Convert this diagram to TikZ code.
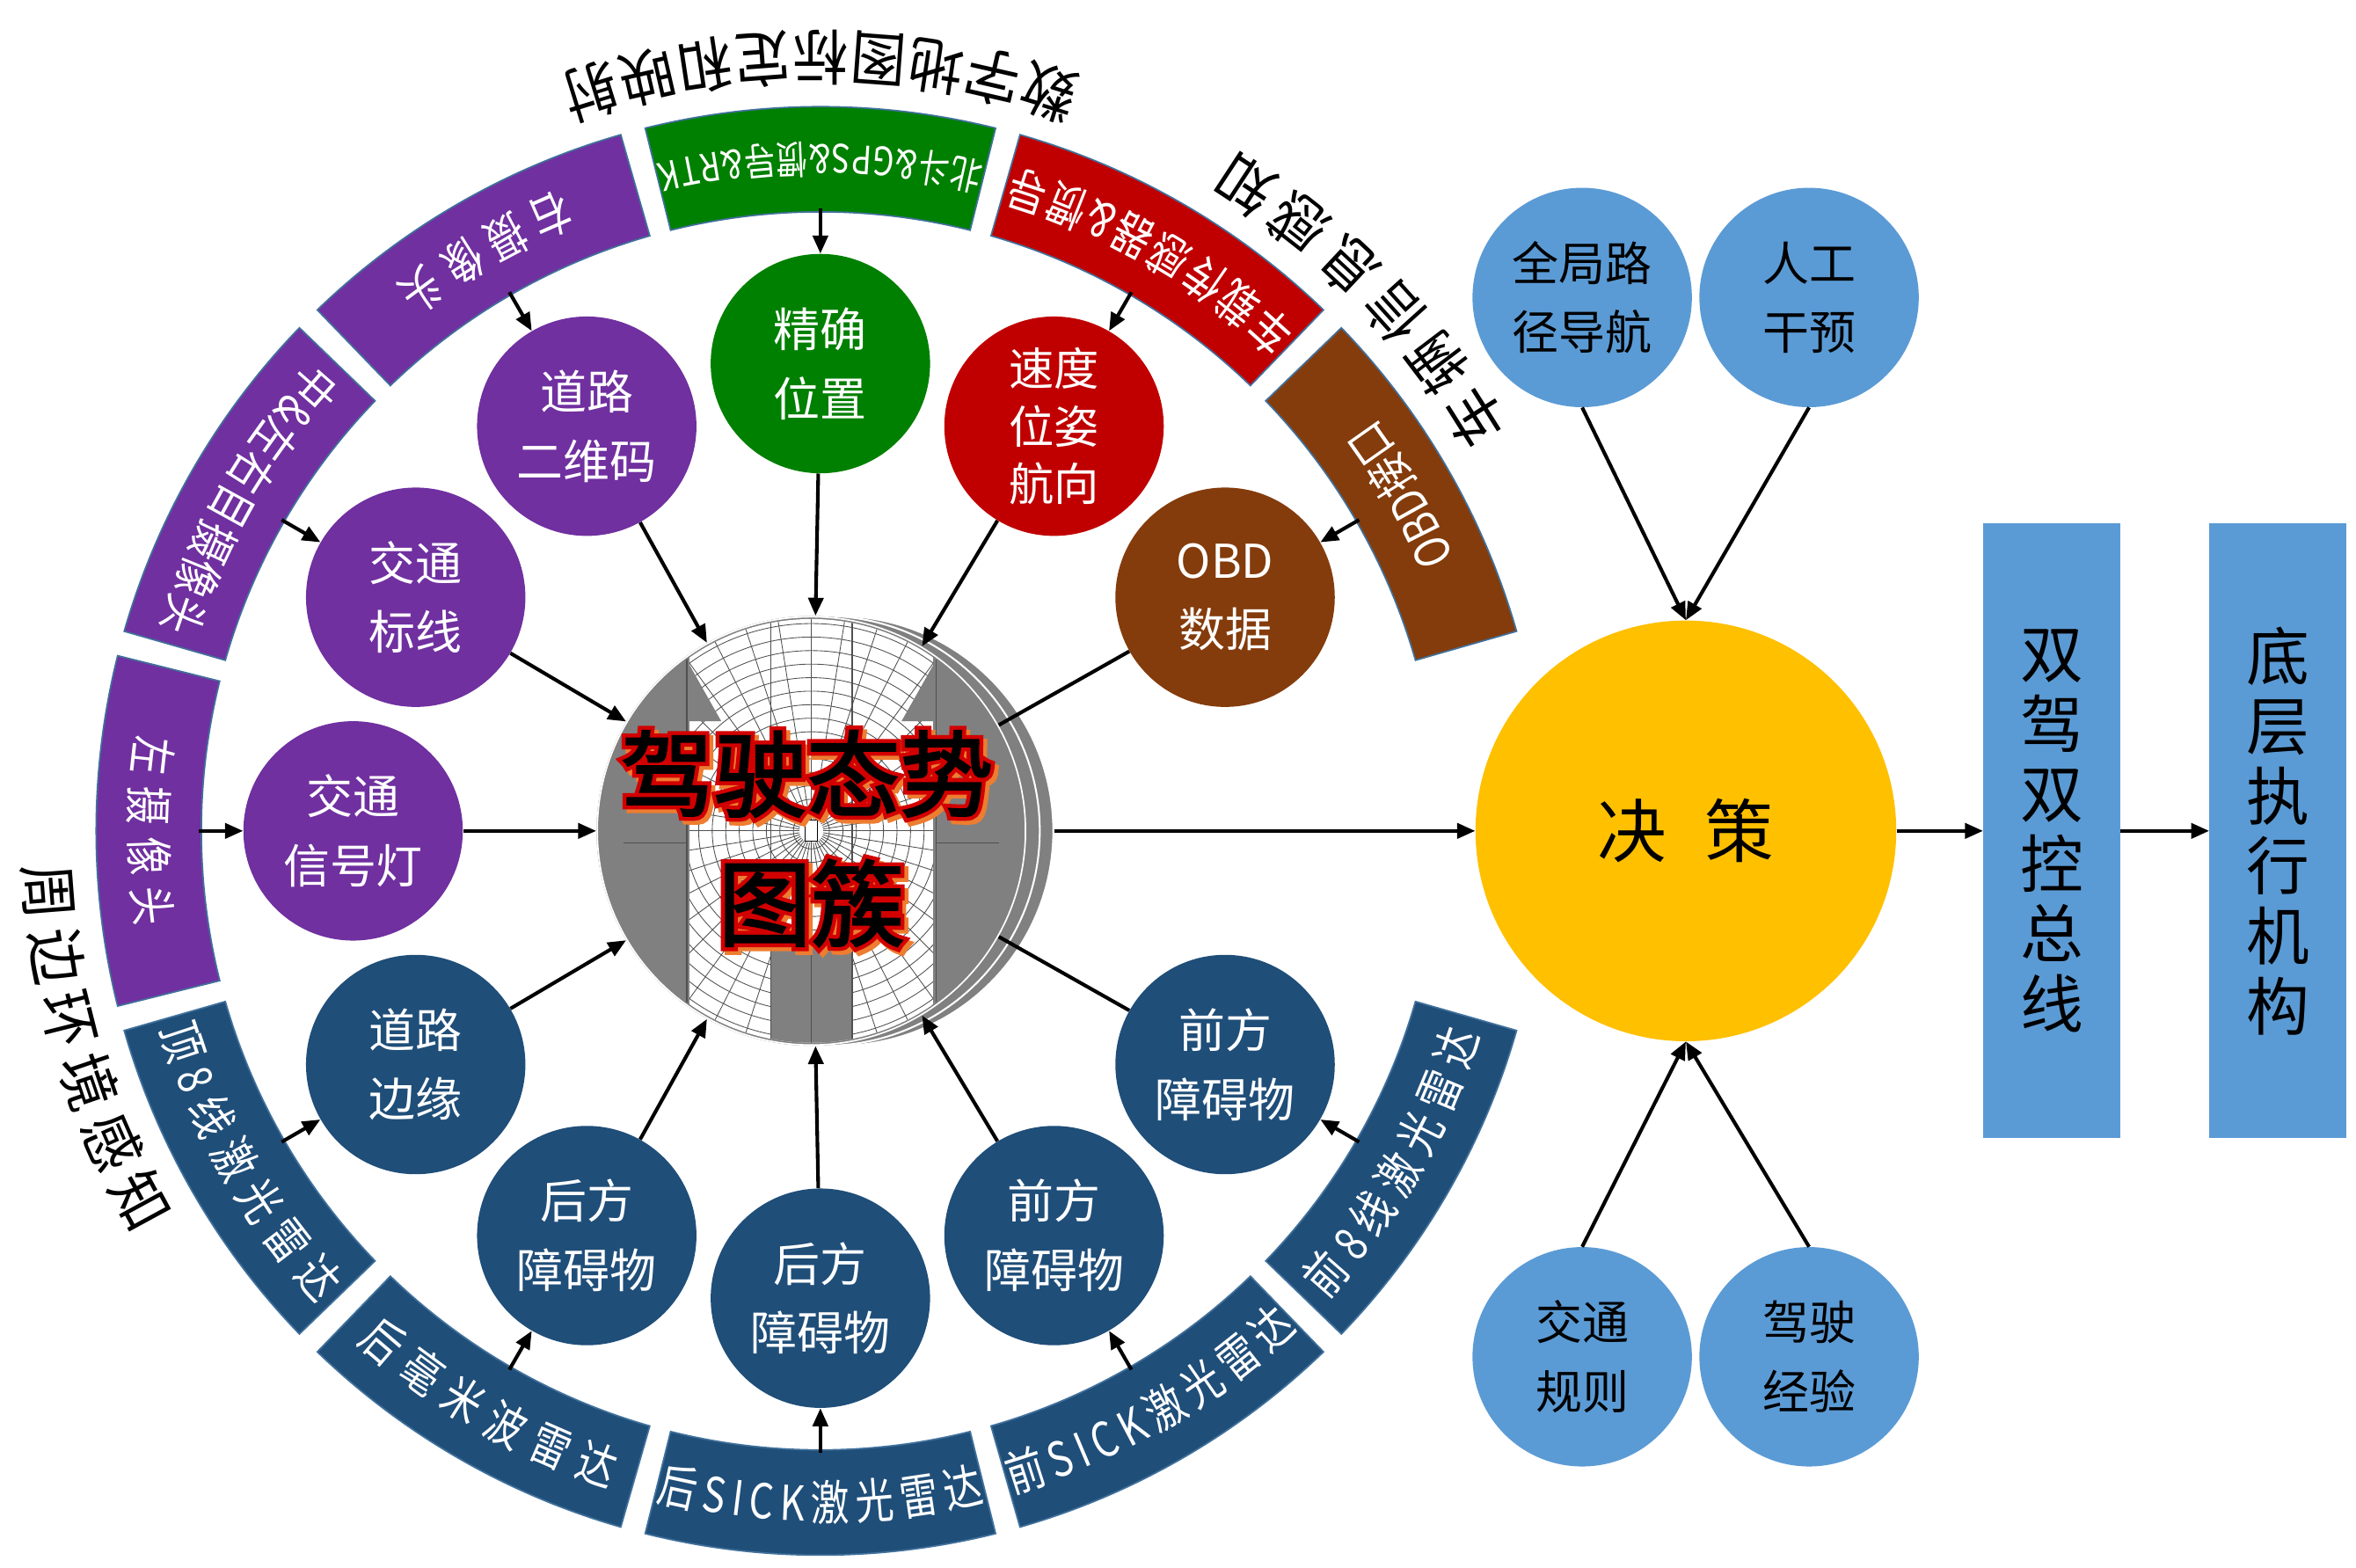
\documentclass[tikz,border=0pt]{standalone}
\usepackage{fontspec}
\setmainfont{Noto Sans CJK SC}
\newfontfamily\bandfam{Noto Sans CJK SC}[FakeStretch=0.8]
\newfontfamily\titlefam{Noto Sans CJK SC}[FakeStretch=0.92]
\newfontfamily\heavyfam{Noto Sans CJK SC}[FakeBold=2.5]
\newfontfamily\rimfam{Noto Sans CJK SC}[FakeBold=11]
\usetikzlibrary{arrows.meta,decorations.text,calc}

\definecolor{cpurple}{RGB}{112,48,160}
\definecolor{cgreen}{RGB}{0,128,0}
\definecolor{cred}{RGB}{192,0,0}
\definecolor{cbrown}{RGB}{132,60,12}
\definecolor{cnavy}{RGB}{31,78,121}
\definecolor{clight}{RGB}{91,155,213}
\definecolor{cgold}{RGB}{255,192,0}
\definecolor{cedge}{RGB}{65,113,156}
\definecolor{cdisc}{RGB}{128,128,128}
\definecolor{cgrid}{RGB}{80,80,80}
\definecolor{cshadow}{RGB}{237,125,49}
\definecolor{cout}{RGB}{210,0,0}

\newcommand\nodefont{\fontsize{31}{46}\selectfont}
\newcommand\threefont{\fontsize{30}{38.5}\selectfont}
\newcommand\jcfont{\fontsize{46}{46}\selectfont}
\newcommand\barfont{\fontsize{42}{46.6}\selectfont}
\newcommand\hubfont{\heavyfam\fontsize{62}{62}\selectfont}
\newcommand\rimfont{\rimfam\fontsize{62}{62}\selectfont}

% ring band: #1 centre angle, #2 fill, #3 half-span of the label, #4 label size, #5 label
\newcommand\ringband[5]{%
  \fill[#2, draw=cedge, line width=1pt]
    ({#1-14}:412) arc[start angle={#1-14}, end angle={#1+14}, radius=412]
    -- ({#1+14}:482) arc[start angle={#1+14}, end angle={#1-14}, radius=482] -- cycle;
  \path[decorate, decoration={text along path, text align={fit to path}, text color=white,
        text={|\bandfam\fontsize{#4}{#4}\selectfont|#5}}]
    ({#1-#3}:{447+0.38*#4}) arc[start angle={#1-#3}, end angle={#1+#3}, radius={447+0.38*#4}];
}
% curved heading outside the ring: #1 centre angle, #2 half-span, #3 text
\newcommand\ringtitle[3]{%
  \path[decorate, decoration={text along path, text align={fit to path},
        text={|\titlefam\fontsize{40}{40}\selectfont|#3}}]
    ({#1-#2}:530) arc[start angle={#1-#2}, end angle={#1+#2}, radius=530];
}
% outlined heading line on the hub: #1 name, #2 position, #3 text
\newcommand\hubline[3]{%
  \node[rimtxt, text=cshadow] at ($#2+(2.6,-2.6)$) {#3};
  \node[rimtxt, text=cout] at #2 {#3};
  \node[hubtxt, text=black] (#1) at #2 {#3};
}

\begin{document}
\begin{tikzpicture}[x=1pt, y=1pt,
  arr/.style={line width=2.4pt, -{Triangle[length=12pt,width=10pt]}},
  link/.style={line width=2.4pt},
  inner/.style={circle, minimum size=146pt, inner sep=0pt, align=center, text=white, font=\nodefont},
  side/.style={circle, minimum size=146pt, inner sep=0pt, align=center, text=black, font=\nodefont, fill=clight},
  disc/.style={circle, minimum size=286pt, inner sep=0pt, fill=cdisc, draw=white, line width=1.2pt},
  bar/.style={rectangle, minimum width=91pt, minimum height=409pt, inner sep=0pt, fill=clight, align=center, font=\barfont},
  hubtxt/.style={inner sep=0pt, font=\hubfont},
  rimtxt/.style={inner sep=0pt, font=\rimfont}]

\useasboundingbox (-546,-490) rectangle (1022,553);
\fill[white] (-546,-490) rectangle (1022,553);

% headings around the ring
\ringtitle{90}{19.2}{数字地图标定和映射}
\ringtitle{44.5}{14.2}{车辆信息感知}
\ringtitle{196.5}{14}{周边环境感知}

% sensor bands
\ringband{30}{cbrown}{6.7}{32}{OBD接口}
\ringband{60}{cred}{13.6}{32}{车载传感器{\&}惯导}
\ringband{90}{cgreen}{13.8}{26}{北斗{\&}GPS{\&}惯导{\&}RTK}
\ringband{120}{cpurple}{8}{32}{右摄像头}
\ringband{150}{cpurple}{12.9}{32}{中{\&}左右目摄像头}
\ringband{180}{cpurple}{8}{32}{左摄像头}
\ringband{210}{cnavy}{13.3}{32}{顶8线激光雷达}
\ringband{240}{cnavy}{12.2}{32}{后毫米波雷达}
\ringband{270}{cnavy}{13.8}{32}{后SICK激光雷达}
\ringband{300}{cnavy}{13.8}{32}{前SICK激光雷达}
\ringband{330}{cnavy}{12.8}{32}{前8线激光雷达}

% information circles
\node[inner, fill=cbrown] (n1) at (30:311) {OBD\\数据};
\node[inner, fill=cred, font=\threefont] (n2) at (60:311) {速度\\位姿\\航向};
\node[inner, fill=cgreen] (n3) at (90:311) {精确\\位置};
\node[inner, fill=cpurple] (n4) at (120:311) {道路\\二维码};
\node[inner, fill=cpurple] (n5) at (150:311) {交通\\标线};
\node[inner, fill=cpurple] (n6) at (180:311) {交通\\信号灯};
\node[inner, fill=cnavy] (n7) at (210:311) {道路\\边缘};
\node[inner, fill=cnavy] (n8) at (240:311) {后方\\障碍物};
\node[inner, fill=cnavy] (n9) at (270:311) {后方\\障碍物};
\node[inner, fill=cnavy] (n10) at (300:311) {前方\\障碍物};
\node[inner, fill=cnavy] (n11) at (330:311) {前方\\障碍物};

\foreach \i in {1,...,11}
  \coordinate (s\i) at ({30*\i}:414);

% hub: stack of map discs
\node[circle, minimum size=286pt, inner sep=0pt] (hub) at (-6,0) {};
\node[disc] (hubc) at (12,0) {};
\node[disc] (hubb) at (3,0) {};
\draw[link] (n1) -- (hub);
\draw[link] (n11) -- (hub);

\begin{scope}[shift={(-6,0)}]
  \fill[cdisc] (0,0) circle (143);
  \begin{scope}
    \clip (0,0) circle (141);
    \fill[white] (-81,-150) rectangle (81,150);
    \begin{scope}
      \clip (-81,-150) rectangle (81,150);
      \foreach \r in {12,21,...,140}
        \draw[cgrid, line width=0.5pt] (0,0) circle (\r);
      \foreach \a in {0,9,...,351}
        \draw[cgrid, line width=0.5pt] (\a:8) -- (\a:150);
    \end{scope}
    \fill[cdisc] (-60,73) -- (-95,135) -- (-95,73) -- cycle;
    \fill[cdisc] (60,73) -- (95,135) -- (95,73) -- cycle;
    \fill[cdisc] (-27,-150) rectangle (27,-77);
    \foreach \x in {-83,-27,0,27,83}
      \draw[cgrid, line width=0.9pt] (\x,-150) -- (\x,150);
    \draw[cgrid, line width=0.6pt] (-125,-8) -- (-83,-8) (83,-8) -- (125,-8);
    \fill[white, draw=black, line width=0.6pt] (-4,-7) rectangle (4,7);
  \end{scope}
  \draw[white, line width=1pt] (0,0) circle (142.5);
\end{scope}

\hubline{ht1}{(-9,38)}{驾驶态势}
\hubline{ht2}{(-6,-48)}{图簇}

% connectors into the hub and from the bands
\foreach \i in {2,...,10}
  \draw[arr] (n\i) -- (hub);
\foreach \i in {1,...,11}
  \draw[arr] (s\i) -- (n\i);

% decision side
\node[circle, minimum size=280pt, inner sep=0pt, fill=cgold, font=\jcfont] (jc) at (576,0) {决\hspace{0.55em}策};
\node[side] (gl) at (507,355) {全局路\\径导航};
\node[side] (hu) at (658,355) {人工\\干预};
\node[side] (tr) at (507,-350) {交通\\规则};
\node[side] (dj) at (658,-350) {驾驶\\经验};
\node[bar] (bus) at (819.5,0) {双\\驾\\双\\控\\总\\线};
\node[bar] (act) at (970,0) {底\\层\\执\\行\\机\\构};

\draw[arr] (gl.south) -- (jc.north);
\draw[arr] (hu.south) -- (jc.north);
\draw[arr] (tr.north) -- (jc.south);
\draw[arr] (dj.north) -- (jc.south);
\draw[arr] (hubc) -- (jc);
\draw[arr] (jc) -- (bus);
\draw[arr] (bus) -- (act);
\end{tikzpicture}
\end{document}
